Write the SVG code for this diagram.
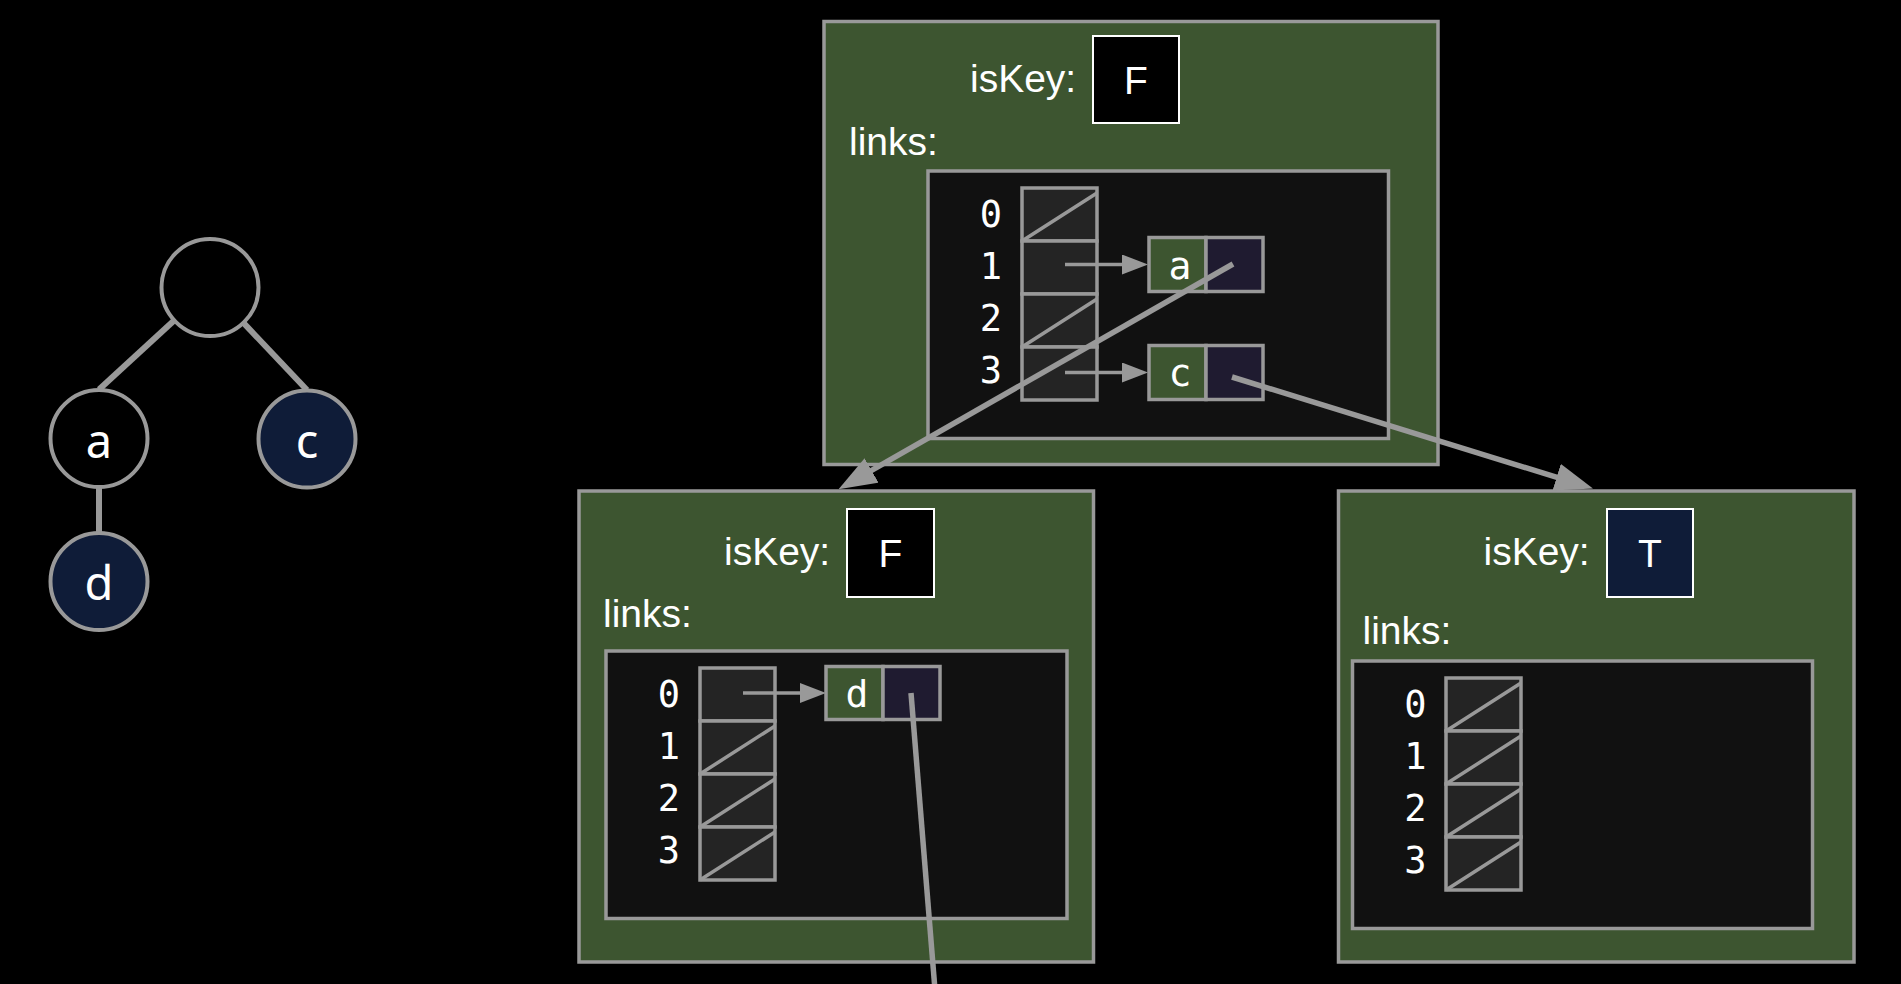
<svg xmlns="http://www.w3.org/2000/svg" width="1901" height="984" viewBox="0 0 1901 984">
<defs>
<style>
.bg{fill:#000}
.edge{stroke:#999;stroke-width:6;fill:none}
.tc{stroke:#999;stroke-width:4}
.tl{font-family:"Noto Sans","Open Sans",sans-serif;font-size:47px;fill:#fff;text-anchor:middle}
.box{fill:#3d5530;stroke:#999;stroke-width:3.5}
.inner{fill:#111;stroke:#999;stroke-width:3.5}
.flag{fill:#000;stroke:#fff;stroke-width:2}
.flagT{fill:#0f1c38;stroke:#fff;stroke-width:2}
.lbl{font-family:"Liberation Sans",Arial,sans-serif;font-size:39px;fill:#fff}
.flagtxt{font-family:"Liberation Sans",Arial,sans-serif;font-size:39px;fill:#fff;text-anchor:middle}
.cell{fill:#242424;stroke:#999;stroke-width:3.5}
.slash{stroke:#999;stroke-width:3.5}
.idx{font-family:"DejaVu Sans Mono",monospace;font-size:37px;fill:#fff;text-anchor:middle}
.key{fill:#3d5530;stroke:#999;stroke-width:3.5}
.ptr{fill:#1f1b30;stroke:#999;stroke-width:3.5}
.keytxt{font-family:"DejaVu Sans Mono",monospace;font-size:38px;fill:#fff;text-anchor:middle}
.small{stroke:#999;stroke-width:3.5;fill:none}
.big{stroke:#999;stroke-width:5.5;fill:none}
</style>
<marker id="ahS" markerUnits="userSpaceOnUse" viewBox="0 0 26 20" refX="6" refY="10" markerWidth="26" markerHeight="20" orient="auto">
<path d="M0,0 L26,10 L0,20 Z" fill="#999"/>
</marker>
<marker id="ahB" markerUnits="userSpaceOnUse" viewBox="0 0 38 28" refX="8" refY="14" markerWidth="38" markerHeight="28" orient="auto">
<path d="M0,0 L38,14 L0,28 Z" fill="#999"/>
</marker>
</defs>
<rect class="bg" x="0" y="0" width="1901" height="984"/>

<!-- tree -->
<g id="tree-edges">
<line class="edge" x1="210" y1="287.5" x2="99" y2="389.5"/>
<line class="edge" x1="210" y1="287.5" x2="307" y2="390"/>
<line class="edge" x1="99" y1="438.5" x2="99" y2="532"/>
</g>
<g id="tree-root"><circle class="tc" cx="210" cy="287.5" r="48.5" fill="#000"/></g>
<g id="tree-a"><circle class="tc" cx="99" cy="438.5" r="48.5" fill="#000"/><text class="tl" x="99" y="457.5">a</text></g>
<g id="tree-c"><circle class="tc" cx="307" cy="439" r="48.5" fill="#0f1c38"/><text class="tl" x="307" y="458">c</text></g>
<g id="tree-d"><circle class="tc" cx="99" cy="581.5" r="48.5" fill="#0f1c38"/><text class="tl" x="99" y="600">d</text></g>

<!-- trie root node -->
<g id="trie-root">
<rect class="box" x="824" y="21.5" width="614" height="443"/>
<text class="lbl" x="970" y="92">isKey:</text>
<rect class="flag" x="1093" y="36" width="86" height="87"/>
<text class="flagtxt" x="1136" y="94">F</text>
<text class="lbl" x="849" y="155">links:</text>
<rect class="inner" x="928" y="171" width="460.5" height="267.5"/>
<rect class="cell" x="1022" y="188" width="75" height="53"/>
<rect class="cell" x="1022" y="241" width="75" height="53"/>
<rect class="cell" x="1022" y="294" width="75" height="53"/>
<rect class="cell" x="1022" y="347" width="75" height="53"/>
<line class="slash" x1="1022" y1="241" x2="1097" y2="193"/>
<line class="slash" x1="1022" y1="347" x2="1097" y2="299"/>
<text class="idx" x="991" y="227">0</text>
<text class="idx" x="991" y="279">1</text>
<text class="idx" x="991" y="331">2</text>
<text class="idx" x="991" y="383">3</text>
</g>
<g id="entry-a">
<rect class="key" x="1149" y="237.5" width="57" height="54"/>
<rect class="ptr" x="1206" y="237.5" width="57" height="54"/>
<text class="keytxt" x="1180" y="278.5">a</text>
</g>
<g id="entry-c">
<rect class="key" x="1149" y="345.5" width="57" height="54"/>
<rect class="ptr" x="1206" y="345.5" width="57" height="54"/>
<text class="keytxt" x="1180" y="385.5">c</text>
</g>

<!-- trie node a -->
<g id="trie-a">
<rect class="box" x="579" y="491" width="514.5" height="471"/>
<text class="lbl" x="724" y="565">isKey:</text>
<rect class="flag" x="847" y="509" width="87" height="88"/>
<text class="flagtxt" x="890.5" y="567">F</text>
<text class="lbl" x="603" y="627">links:</text>
<rect class="inner" x="606" y="651" width="461" height="267.5"/>
<rect class="cell" x="700" y="668" width="75" height="53"/>
<rect class="cell" x="700" y="721" width="75" height="53"/>
<rect class="cell" x="700" y="774" width="75" height="53"/>
<rect class="cell" x="700" y="827" width="75" height="53"/>
<line class="slash" x1="700" y1="774" x2="775" y2="726"/>
<line class="slash" x1="700" y1="827" x2="775" y2="779"/>
<line class="slash" x1="700" y1="880" x2="775" y2="832"/>
<text class="idx" x="669" y="707">0</text>
<text class="idx" x="669" y="759">1</text>
<text class="idx" x="669" y="811">2</text>
<text class="idx" x="669" y="863">3</text>
</g>
<g id="entry-d">
<rect class="key" x="826" y="666.5" width="57" height="53"/>
<rect class="ptr" x="883" y="666.5" width="57" height="53"/>
<text class="keytxt" x="857" y="706.5">d</text>
</g>

<!-- trie node c -->
<g id="trie-c">
<rect class="box" x="1338.5" y="491" width="515.5" height="471"/>
<text class="lbl" x="1483.5" y="565">isKey:</text>
<rect class="flagT" x="1607" y="509" width="86" height="88"/>
<text class="flagtxt" x="1650" y="567">T</text>
<text class="lbl" x="1362.5" y="644">links:</text>
<rect class="inner" x="1352.5" y="661" width="460" height="267.5"/>
<rect class="cell" x="1446" y="678" width="75" height="53"/>
<rect class="cell" x="1446" y="731" width="75" height="53"/>
<rect class="cell" x="1446" y="784" width="75" height="53"/>
<rect class="cell" x="1446" y="837" width="75" height="53"/>
<line class="slash" x1="1446" y1="731" x2="1521" y2="683"/>
<line class="slash" x1="1446" y1="784" x2="1521" y2="736"/>
<line class="slash" x1="1446" y1="837" x2="1521" y2="789"/>
<line class="slash" x1="1446" y1="890" x2="1521" y2="842"/>
<text class="idx" x="1415.5" y="717">0</text>
<text class="idx" x="1415.5" y="769">1</text>
<text class="idx" x="1415.5" y="821">2</text>
<text class="idx" x="1415.5" y="873">3</text>
</g>

<!-- connectors -->
<g id="connectors">
<line class="small" x1="1065" y1="264.5" x2="1128" y2="264.5" marker-end="url(#ahS)"/>
<line class="small" x1="1065" y1="372.5" x2="1128" y2="372.5" marker-end="url(#ahS)"/>
<line class="small" x1="743" y1="693" x2="806" y2="693" marker-end="url(#ahS)"/>
<line class="big" x1="1233" y1="264" x2="864.6" y2="474.4" marker-end="url(#ahB)"/>
<line class="big" x1="1232" y1="377" x2="1564.3" y2="479.6" marker-end="url(#ahB)"/>
<line class="big" x1="911" y1="693" x2="935" y2="990"/>
</g>
</svg>
